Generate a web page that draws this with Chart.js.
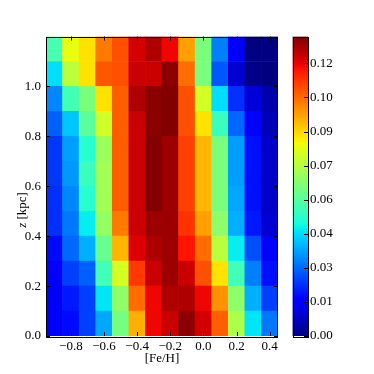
<!DOCTYPE html>
<html lang="en">
<head>
  <meta charset="UTF-8" />
  <title>[Fe/H] vs z density</title>
  <script src="https://cdn.jsdelivr.net/npm/chart.js"></script>
  <style>
    body { margin: 0; background: white; }
    .wrap { position: relative; width: 374px; height: 374px; }
    #mainChart { position: absolute; left: 0; top: 0; }
    #cbChart { position: absolute; left: 292px; top: 0; }
  </style>
</head>
<body>
  <div class="wrap">
    <canvas id="mainChart" width="374" height="374"></canvas>
    <canvas id="cbChart" width="82" height="374"></canvas>
  </div>
  <script>
// bin centres
const fehCenters = [-0.9, -0.8, -0.7, -0.6, -0.5, -0.4, -0.3, -0.2, -0.1, 0.0, 0.1, 0.2, 0.3, 0.4];
const zCenters = [0.05, 0.15, 0.25, 0.35, 0.45, 0.55, 0.65, 0.75, 0.85, 0.95, 1.05, 1.15];
const binHalf = 0.05;

// density per z row (bottom row first), one value per [Fe/H] bin
const density = [
  [0.014, 0.017, 0.024, 0.037, 0.063, 0.093, 0.116, 0.120, 0.127, 0.119, 0.104, 0.072, 0.045, 0.031],
  [0.014, 0.019, 0.024, 0.045, 0.067, 0.102, 0.116, 0.123, 0.123, 0.116, 0.097, 0.067, 0.038, 0.024],
  [0.015, 0.024, 0.028, 0.055, 0.078, 0.109, 0.120, 0.125, 0.120, 0.106, 0.086, 0.055, 0.032, 0.018],
  [0.017, 0.029, 0.038, 0.061, 0.092, 0.118, 0.123, 0.125, 0.114, 0.102, 0.074, 0.046, 0.026, 0.015],
  [0.022, 0.031, 0.046, 0.068, 0.100, 0.120, 0.125, 0.125, 0.110, 0.095, 0.067, 0.038, 0.019, 0.009],
  [0.022, 0.033, 0.051, 0.070, 0.104, 0.120, 0.128, 0.125, 0.108, 0.092, 0.064, 0.037, 0.018, 0.008],
  [0.023, 0.035, 0.054, 0.070, 0.104, 0.120, 0.128, 0.125, 0.108, 0.092, 0.064, 0.036, 0.018, 0.008],
  [0.023, 0.036, 0.051, 0.069, 0.104, 0.120, 0.128, 0.125, 0.108, 0.092, 0.064, 0.036, 0.018, 0.008],
  [0.028, 0.041, 0.059, 0.077, 0.104, 0.120, 0.127, 0.128, 0.106, 0.086, 0.054, 0.029, 0.015, 0.006],
  [0.033, 0.055, 0.064, 0.086, 0.104, 0.123, 0.127, 0.128, 0.106, 0.078, 0.044, 0.022, 0.010, 0.005],
  [0.044, 0.074, 0.086, 0.105, 0.106, 0.120, 0.120, 0.127, 0.102, 0.064, 0.027, 0.009, 0.001, 0.000],
  [0.056, 0.081, 0.086, 0.100, 0.106, 0.119, 0.123, 0.116, 0.095, 0.064, 0.032, 0.015, 0.000, 0.000]
];

const xTicks = [-0.8, -0.6, -0.4, -0.2, 0.0, 0.2, 0.4];
const xTickLabels = ['\u22120.8', '\u22120.6', '\u22120.4', '\u22120.2', '0.0', '0.2', '0.4'];
const yTicks = [0.0, 0.2, 0.4, 0.6, 0.8, 1.0];
const yTickLabels = ['0.0', '0.2', '0.4', '0.6', '0.8', '1.0'];
const cbTicks = [0, 0.0146, 0.0292, 0.0438, 0.0584, 0.073, 0.0876, 0.1022, 0.1168];
const cbTickLabels = ['0.00', '0.01', '0.03', '0.04', '0.06', '0.07', '0.09', '0.10', '0.12'];

const CMIN = 0;
const CMAX = 0.1283;
const FONT = 'Liberation Serif';

// matplotlib "jet"
function seg(t, pts) {
  for (let i = 1; i < pts.length; i++) {
    if (t <= pts[i][0]) {
      const [t0, v0] = pts[i - 1], [t1, v1] = pts[i];
      return v0 + (v1 - v0) * (t - t0) / (t1 - t0);
    }
  }
  return pts[pts.length - 1][1];
}
function jet(v) {
  const t = Math.min(1, Math.max(0, (v - CMIN) / (CMAX - CMIN)));
  const r = seg(t, [[0, 0], [0.35, 0], [0.66, 1], [0.89, 1], [1, 0.5]]);
  const g = seg(t, [[0, 0], [0.125, 0], [0.375, 1], [0.64, 1], [0.91, 0], [1, 0]]);
  const b = seg(t, [[0, 0.5], [0.11, 1], [0.34, 1], [0.65, 0], [1, 0]]);
  return `rgb(${Math.round(r * 255)},${Math.round(g * 255)},${Math.round(b * 255)})`;
}

// frame + inward ticks like matplotlib
const framePlugin = {
  id: 'frame',
  afterDraw(chart, args, opts) {
    const { ctx, chartArea: a } = chart;
    ctx.save();
    ctx.strokeStyle = '#000';
    ctx.lineWidth = 1;
    ctx.beginPath();
    if (opts.xTicks) {
      const xs = chart.scales.x;
      opts.xTicks.forEach(v => {
        const px = Math.round(xs.getPixelForValue(v)) + 0.5;
        ctx.moveTo(px, a.bottom); ctx.lineTo(px, a.bottom - 4);
        ctx.moveTo(px, a.top); ctx.lineTo(px, a.top + 4);
      });
    }
    if (opts.yTicks) {
      const ys = chart.scales.y;
      opts.yTicks.forEach(v => {
        const py = Math.round(ys.getPixelForValue(v)) + 0.5;
        if (opts.leftTicks) { ctx.moveTo(a.left, py); ctx.lineTo(a.left + 4, py); }
        ctx.moveTo(a.right, py); ctx.lineTo(a.right - 4, py);
      });
    }
    ctx.stroke();
    ctx.strokeRect(Math.round(a.left) + 0.5, Math.round(a.top) + 0.5,
      Math.round(a.right - a.left) - 1, Math.round(a.bottom - a.top));

    // y axis title with italic z
    if (opts.yTitle) {
      ctx.translate(22.5, 210);
      ctx.rotate(-Math.PI / 2);
      ctx.fillStyle = '#000';
      ctx.textBaseline = 'middle';
      ctx.font = `italic 13px "${FONT}"`;
      const w1 = ctx.measureText(opts.yTitle[0]).width;
      ctx.font = `13px "${FONT}"`;
      const w2 = ctx.measureText(opts.yTitle[1]).width;
      let x0 = -(w1 + w2) / 2;
      ctx.font = `italic 13px "${FONT}"`;
      ctx.fillText(opts.yTitle[0], x0, 0);
      ctx.font = `13px "${FONT}"`;
      ctx.fillText(opts.yTitle[1], x0 + w1, 0);
    }
    ctx.restore();
  }
};

const datasets = zCenters.map((z, i) => ({
  data: fehCenters.map(x => ({ x: x, y: [z - binHalf, z + binHalf] })),
  backgroundColor: density[i].map(jet),
  borderWidth: 0,
  grouped: false,
  barPercentage: 1,
  categoryPercentage: 1
}));

new Chart(document.getElementById('mainChart'), {
  type: 'bar',
  data: { datasets: datasets },
  options: {
    responsive: false,
    animation: false,
    layout: { padding: { top: 36.5, right: 96, left: 0, bottom: 0 } },
    plugins: {
      legend: { display: false },
      tooltip: { enabled: false },
      frame: { xTicks: xTicks, yTicks: yTicks, leftTicks: true, yTitle: ['z', ' [kpc]'] }
    },
    scales: {
      x: {
        type: 'linear',
        min: -0.95, max: 0.45,
        offset: false,
        grid: { display: false, drawTicks: false },
        border: { display: false },
        afterBuildTicks: s => { s.ticks = xTicks.map(v => ({ value: v })); },
        afterFit: s => { s.height = 38; },
        ticks: {
          color: '#000', padding: 3, maxRotation: 0,
          font: { family: FONT, size: 13 },
          callback: (v) => xTickLabels[xTicks.findIndex(t => Math.abs(t - v) < 1e-6)]
        },
        title: {
          display: true, text: '[Fe/H]', color: '#000',
          font: { family: FONT, size: 13 },
          padding: { top: 0, bottom: 8 }
        }
      },
      y: {
        type: 'linear',
        min: 0, max: 1.2,
        grid: { display: false, drawTicks: false },
        border: { display: false },
        afterBuildTicks: s => { s.ticks = yTicks.map(v => ({ value: v })); },
        afterFit: s => { s.width = 46; },
        ticks: {
          color: '#000', padding: 5,
          font: { family: FONT, size: 13 },
          callback: (v) => yTickLabels[yTicks.findIndex(t => Math.abs(t - v) < 1e-6)]
        }
      }
    }
  },
  plugins: [framePlugin]
});

// colorbar
function jetGradient(ctx, area) {
  const g = ctx.createLinearGradient(0, area.bottom, 0, area.top);
  for (let i = 0; i <= 64; i++) g.addColorStop(i / 64, jet(CMIN + (CMAX - CMIN) * i / 64));
  return g;
}

new Chart(document.getElementById('cbChart'), {
  type: 'bar',
  data: {
    labels: [''],
    datasets: [{
      data: [[CMIN, CMAX]],
      borderWidth: 0,
      barPercentage: 1,
      categoryPercentage: 1,
      backgroundColor: (c) => {
        const area = c.chart.chartArea;
        if (!area) return jet(CMAX / 2);
        return jetGradient(c.chart.ctx, area);
      }
    }]
  },
  options: {
    responsive: false,
    animation: false,
    layout: { padding: { top: 36.5, bottom: 38, left: 0.5, right: 0 } },
    plugins: {
      legend: { display: false },
      tooltip: { enabled: false },
      frame: { yTicks: cbTicks, leftTicks: false }
    },
    scales: {
      x: { display: false },
      y: {
        position: 'right',
        min: CMIN, max: CMAX,
        grid: { display: false, drawTicks: false },
        border: { display: false },
        afterBuildTicks: s => { s.ticks = cbTicks.map(v => ({ value: v })); },
        afterFit: s => { s.width = 66; },
        ticks: {
          color: '#000', padding: 2,
          font: { family: FONT, size: 13 },
          callback: (v) => cbTickLabels[cbTicks.findIndex(t => Math.abs(t - v) < 1e-6)]
        }
      }
    }
  },
  plugins: [framePlugin]
});
  </script>
</body>
</html>
